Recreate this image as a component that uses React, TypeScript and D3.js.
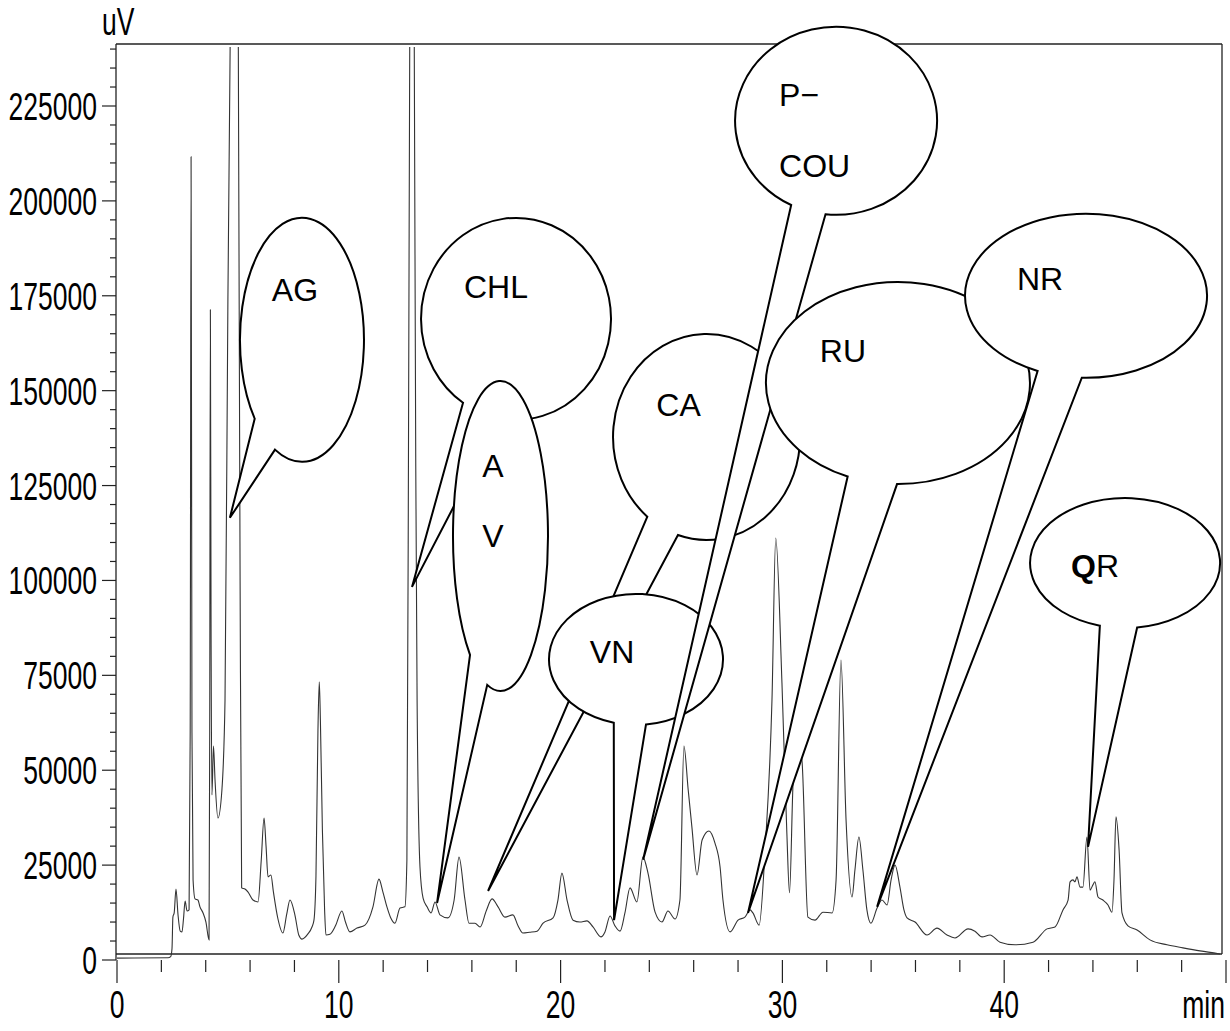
import React from "react";
import * as d3 from "d3";

// retention time (min) and detector signal (uV)
const retentionTimes = [
  0, 2.3, 2.42, 2.48, 2.52, 2.58, 2.66, 2.75, 2.85, 2.93, 3.0, 3.07, 3.16, 3.25, 3.3, 3.34, 3.38, 3.43,
  3.52, 3.65, 3.74, 3.88, 4.01, 4.15, 4.18, 4.21, 4.24, 4.28, 4.35, 4.42, 4.55, 4.73, 4.87, 5.0, 5.1,
  5.2, 5.4, 5.47, 5.55, 5.62, 5.77, 5.91, 6.13, 6.36, 6.5, 6.63, 6.72, 6.81, 6.94, 7.05, 7.25, 7.48,
  7.65, 7.8, 8.02, 8.2, 8.34, 8.6, 8.79, 8.88, 8.97, 9.06, 9.12, 9.17, 9.26, 9.36, 9.42, 9.6, 9.85,
  10.14, 10.3, 10.5, 10.82, 11.18, 11.54, 11.81, 11.99, 12.17, 12.35, 12.53, 12.76, 12.98, 13.07,
  13.15, 13.2, 13.27, 13.35, 13.4, 13.47, 13.53, 13.66, 13.8, 13.98, 14.16, 14.34, 14.56, 14.92,
  15.2, 15.42, 15.69, 15.87, 16.14, 16.37, 16.65, 16.91, 17.18, 17.49, 17.85, 18.08, 18.3, 18.6,
  18.94, 19.21, 19.66, 19.88, 20.06, 20.29, 20.56, 20.87, 21.19, 21.46, 21.82, 22.0, 22.23, 22.45,
  22.68, 22.9, 23.13, 23.44, 23.71, 23.94, 24.26, 24.57, 24.84, 25.16, 25.38, 25.56, 25.75, 25.92,
  26.15, 26.38, 26.69, 26.96, 27.19, 27.32, 27.64, 28.0, 28.31, 28.54, 28.67, 28.95, 29.22, 29.53,
  29.7, 29.98, 30.2, 30.32, 30.48, 30.66, 30.88, 31.15, 31.47, 31.83, 32.24, 32.42, 32.64, 32.87,
  33.14, 33.27, 33.45, 33.63, 33.81, 33.99, 34.27, 34.49, 34.72, 34.9, 35.08, 35.3, 35.48, 35.62,
  35.98, 36.52, 36.97, 37.42, 37.78, 38.37, 38.68, 39.0, 39.36, 39.81, 40.49, 41.3, 41.93, 42.29,
  42.65, 42.88, 42.97, 43.1, 43.19, 43.28, 43.42, 43.55, 43.73, 43.87, 44.0, 44.09, 44.23, 44.45,
  44.68, 44.86, 44.95, 45.04, 45.18, 45.31, 45.58, 45.99, 46.57, 47.34, 48.06, 48.83, 49.73,
];
const signalValues = [
  500, 600, 900, 3000, 11300, 12500, 18700, 12000, 7600, 7400, 11000, 15500, 12900, 13200, 60000,
  211600, 60000, 21100, 16100, 15800, 14000, 12400, 10000, 5300, 60000, 171300, 90000, 43500, 56400,
  47400, 37400, 44800, 68500, 174000, 240000, 320000, 320000, 240000, 100000, 19000, 18700, 17900,
  15800, 15300, 26000, 37400, 30000, 21900, 22400, 18000, 11000, 7100, 12000, 15800, 11900, 6500,
  5500, 6800, 8700, 10500, 22000, 60600, 73300, 63200, 34300, 13200, 6600, 6800, 9000, 12900, 10000,
  7400, 8400, 9200, 14000, 21300, 17900, 14000, 11000, 9700, 13700, 14000, 26300, 150000, 245000,
  320000, 320000, 245000, 130000, 68500, 24500, 16300, 14000, 12400, 15300, 11900, 11100, 15800,
  27100, 15800, 9700, 9700, 8700, 13000, 16100, 14000, 11300, 11900, 9000, 7100, 7300, 7600, 9700,
  11100, 15800, 22900, 15800, 10500, 10000, 10300, 8700, 6100, 7400, 11600, 9000, 7600, 12400, 19000,
  15300, 27100, 22900, 12600, 10000, 12900, 10800, 15800, 56400, 45000, 35000, 22400, 31600, 34000,
  30800, 24500, 15800, 7400, 10500, 11300, 13200, 12400, 9200, 29000, 68500, 111200, 73000, 33500,
  17700, 46600, 58000, 52700, 11300, 10500, 12600, 12400, 21100, 79000, 36900, 16600, 23700, 32400,
  23700, 13200, 9700, 13700, 15800, 14500, 21100, 25000, 19200, 13200, 11100, 10000, 6600, 8400,
  6600, 5800, 8200, 7600, 6100, 6600, 4700, 4000, 4700, 8200, 8700, 13200, 15800, 20600, 21100,
  20600, 21900, 19200, 19200, 32400, 18400, 19800, 20600, 16600, 15800, 14500, 12600, 21100, 37700,
  29000, 12400, 9000, 7900, 5300, 4000, 3200, 2400, 1600,
];

const yTickLabels = ["0", "25000", "50000", "75000", "100000", "125000", "150000", "175000", "200000", "225000"];
const xTickLabels = ["0", "10", "20", "30", "40", "min"];

// peak annotations: name and the point of the trace the callout points to
const peakNames = ["AG", "CHL", "AV", "CA", "VN", "P-COU", "RU", "NR", "QR"];
const peakTimes = [5.09, 13.3, 14.43, 16.73, 22.41, 23.72, 28.45, 34.27, 43.78];
const peakValues = [116500, 98300, 15000, 18200, 10500, 26400, 12400, 14000, 29800];

// callout bubble geometry (centre in data units, radii in px, wedge base angles in deg)
const bubbleLayout = [
  { t: 8.34, v: 163400, rx: 62, ry: 122, a1: 139.7, a2: 115.8, lines: [{ dx: -7, dy: -39, parts: [["AG", false]] }] },
  { t: 17.99, v: 168900, rx: 95, ry: 101, a1: 123.9, a2: 100, lines: [{ dx: -20, dy: -21, parts: [["CHL", false]] }] },
  { t: 17.29, v: 111700, rx: 47.5, ry: 155, a1: 129.9, a2: 106.2, lines: [{ dx: -7.5, dy: -59, parts: [["A", false]] }, { dx: -7.5, dy: 11, parts: [["V", false]] }] },
  { t: 26.58, v: 137800, rx: 93.5, ry: 103, a1: 129.3, a2: 107.8, lines: [{ dx: -28, dy: -21, parts: [["CA", false]] }] },
  { t: 23.4, v: 79200, rx: 87, ry: 65.5, a1: 104.8, a2: 83.4, lines: [{ dx: -24, dy: 4, parts: [["VN", false]] }] },
  { t: 32.42, v: 221100, rx: 101, ry: 94, a1: 116.4, a2: 96, anchor: "start", lines: [{ dx: -57, dy: -15, parts: [["P−", false]] }, { dx: -57, dy: 56, parts: [["COU", false]] }] },
  { t: 35.21, v: 152000, rx: 132, ry: 101, a1: 112.4, a2: 90.4, lines: [{ dx: -55, dy: -21, parts: [["RU", false]] }] },
  { t: 43.69, v: 175000, rx: 121, ry: 82, a1: 113.6, a2: 92, lines: [{ dx: -46, dy: -6, parts: [["NR", false]] }] },
  { t: 45.45, v: 104600, rx: 95, ry: 65, a1: 105.4, a2: 82.7, lines: [{ dx: -30, dy: 14, parts: [["Q", true], ["R", false]] }] },
];

const axisFont = "'Liberation Sans', Arial, sans-serif";

function bubblePath(cx: number, cy: number, rx: number, ry: number, a1: number, a2: number, tx: number, ty: number) {
  const r = Math.PI / 180;
  const p1 = [cx + rx * Math.cos(a1 * r), cy + ry * Math.sin(a1 * r)];
  const p2 = [cx + rx * Math.cos(a2 * r), cy + ry * Math.sin(a2 * r)];
  return `M${p1[0]},${p1[1]} L${tx},${ty} L${p2[0]},${p2[1]} A${rx},${ry} 0 1 0 ${p1[0]},${p1[1]} Z`;
}

export default function App() {
  const width = 1230;
  const height = 1031;
  const left = 116, right = 1222, top = 44, bottom = 954;

  const x = d3.scaleLinear().domain([0, 50]).range([117, 1226]);
  const y = d3.scaleLinear().domain([0, 225000]).range([960, 106]);

  const points = retentionTimes.map((t, i) => [t, signalValues[i]] as [number, number]);
  const line = d3
    .line<[number, number]>()
    .x((d) => x(d[0]))
    .y((d) => y(d[1]))
    .curve(d3.curveMonotoneX);

  const yMinor = d3.range(0, 240001, 5000);
  const xMinor = d3.range(0, 51, 2);
  const stroke = "#222";

  return (
    <svg
      width={width}
      height={height}
      style={{ position: "absolute", left: 0, top: 0, background: "#fff" }}
    >
      <defs>
        <clipPath id="plotClip">
          <rect x={left} y={47} width={right - left} height={960 - 47} />
        </clipPath>
      </defs>

      {/* frame */}
      <line x1={left} x2={right} y1={top} y2={top} stroke={stroke} strokeWidth={1.3} />
      <line x1={right} x2={right} y1={top} y2={bottom} stroke={stroke} strokeWidth={1.3} />
      <line x1={left} x2={right} y1={bottom} y2={bottom} stroke={stroke} strokeWidth={1.3} />
      <line x1={left} x2={left} y1={top} y2={960} stroke={stroke} strokeWidth={1.3} />

      {/* y axis */}
      {yMinor.map((v) => {
        const major = v % 25000 === 0;
        return (
          <line key={"yt" + v} x1={major ? 102 : 110} x2={left} y1={y(v)} y2={y(v)} stroke={stroke} strokeWidth={1.2} />
        );
      })}
      {yTickLabels.map((lab) => (
        <text
          key={"yl" + lab}
          transform={`translate(97,${y(+lab) + 14}) scale(0.68,1)`}
          textAnchor="end"
          fontFamily={axisFont}
          fontSize={39}
          fill="#000"
        >
          {lab}
        </text>
      ))}
      <text transform="translate(102,35) scale(0.68,1)" fontFamily={axisFont} fontSize={39} fill="#000">
        uV
      </text>

      {/* x axis */}
      {xMinor.map((t) => {
        const major = t % 10 === 0;
        return (
          <line key={"xt" + t} x1={x(t)} x2={x(t)} y1={960} y2={major ? 983 : 972} stroke={stroke} strokeWidth={1.2} />
        );
      })}
      {xTickLabels.map((lab, i) => (
        <text
          key={"xl" + lab}
          transform={`translate(${lab === "min" ? 1225 : x(i * 10)},1018) scale(0.68,1)`}
          textAnchor={lab === "min" ? "end" : "middle"}
          fontFamily={axisFont}
          fontSize={39}
          fill="#000"
        >
          {lab}
        </text>
      ))}

      {/* chromatogram */}
      <path
        d={line(points) || ""}
        fill="none"
        stroke="#333"
        strokeWidth={1.1}
        clipPath="url(#plotClip)"
      />

      {/* callouts */}
      {bubbleLayout.map((b, i) => {
        const cx = x(b.t);
        const cy = y(b.v);
        const tx = x(peakTimes[i]);
        const ty = y(peakValues[i]);
        return (
          <g key={peakNames[i]}>
            <path
              d={bubblePath(cx, cy, b.rx, b.ry, b.a1, b.a2, tx, ty)}
              fill="#fff"
              stroke="#000"
              strokeWidth={2}
              strokeLinejoin="miter"
            />
            {b.lines.map((ln, j) => (
              <text
                key={j}
                x={cx + ln.dx}
                y={cy + ln.dy}
                textAnchor={b.anchor || "middle"}
                fontFamily={axisFont}
                fontSize={32}
                fill="#000"
              >
                {ln.parts.map((p, k) => (
                  <tspan key={k} fontWeight={p[1] ? "bold" : "normal"}>
                    {p[0] as string}
                  </tspan>
                ))}
              </text>
            ))}
          </g>
        );
      })}
    </svg>
  );
}
